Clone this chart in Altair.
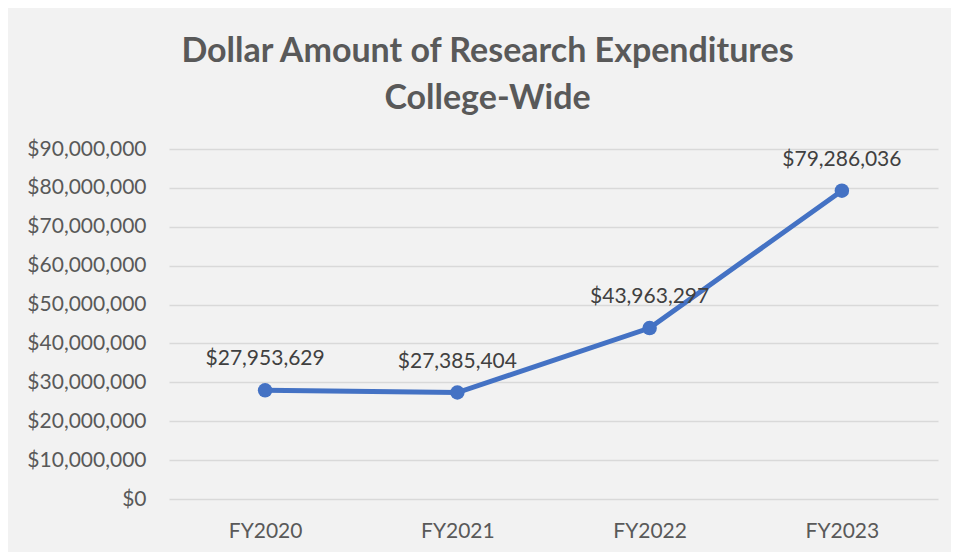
import altair as alt
import pandas as pd

years = ["FY2020", "FY2021", "FY2022", "FY2023"]
amounts = [27953629, 27385404, 43963297, 79286036]
y_ticks = [0, 10000000, 20000000, 30000000, 40000000, 50000000,
           60000000, 70000000, 80000000, 90000000]
title_lines = ["Dollar Amount of Research Expenditures", "College-Wide"]

df = pd.DataFrame({"year": years, "amount": amounts})

FONT = "Lato"
BLUE = "#4472C4"
FS = 21

x_enc = alt.X("year:N", sort=years,
              scale=alt.Scale(paddingInner=0, paddingOuter=0),
              axis=alt.Axis(title=None, labelAngle=0, ticks=False, domain=False,
                            labelPadding=21, labelFontSize=FS, labelColor="#595959",
                            labelFont=FONT, grid=False))
y_enc = alt.Y("amount:Q",
              scale=alt.Scale(domain=[0, 90000000], nice=False),
              axis=alt.Axis(title=None, values=y_ticks, format="$,.0f",
                            ticks=False, domain=False, labelPadding=23,
                            labelFontSize=FS, labelColor="#595959", labelFont=FONT,
                            gridColor="#D9D9D9", gridWidth=1.5))

base = alt.Chart(df)
line = base.mark_line(color=BLUE, strokeWidth=5).encode(x=x_enc, y=y_enc)
pts = base.mark_point(filled=True, color=BLUE, size=210, opacity=1).encode(x=x_enc, y=y_enc)
labels = base.mark_text(dy=-31, fontSize=FS, font=FONT, color="#404040").encode(
    x=x_enc, y=y_enc, text=alt.Text("amount:Q", format="$,.0f"))

chart = (line + pts + labels).properties(
    width=769, height=350,
    padding={"left": 161, "top": 141, "right": 13, "bottom": 53},
    autosize=alt.AutoSizeParams(type="none"),
    title=alt.TitleParams(text=title_lines, anchor="middle", frame="group",
                          dx=-66, offset=22, fontSize=34, lineHeight=47,
                          font=FONT, fontWeight="bold", color="#595959"),
).configure(background="#F2F2F2").configure_view(stroke=None)

chart.save("out.html", embed_options={"renderer": "svg", "actions": False})
